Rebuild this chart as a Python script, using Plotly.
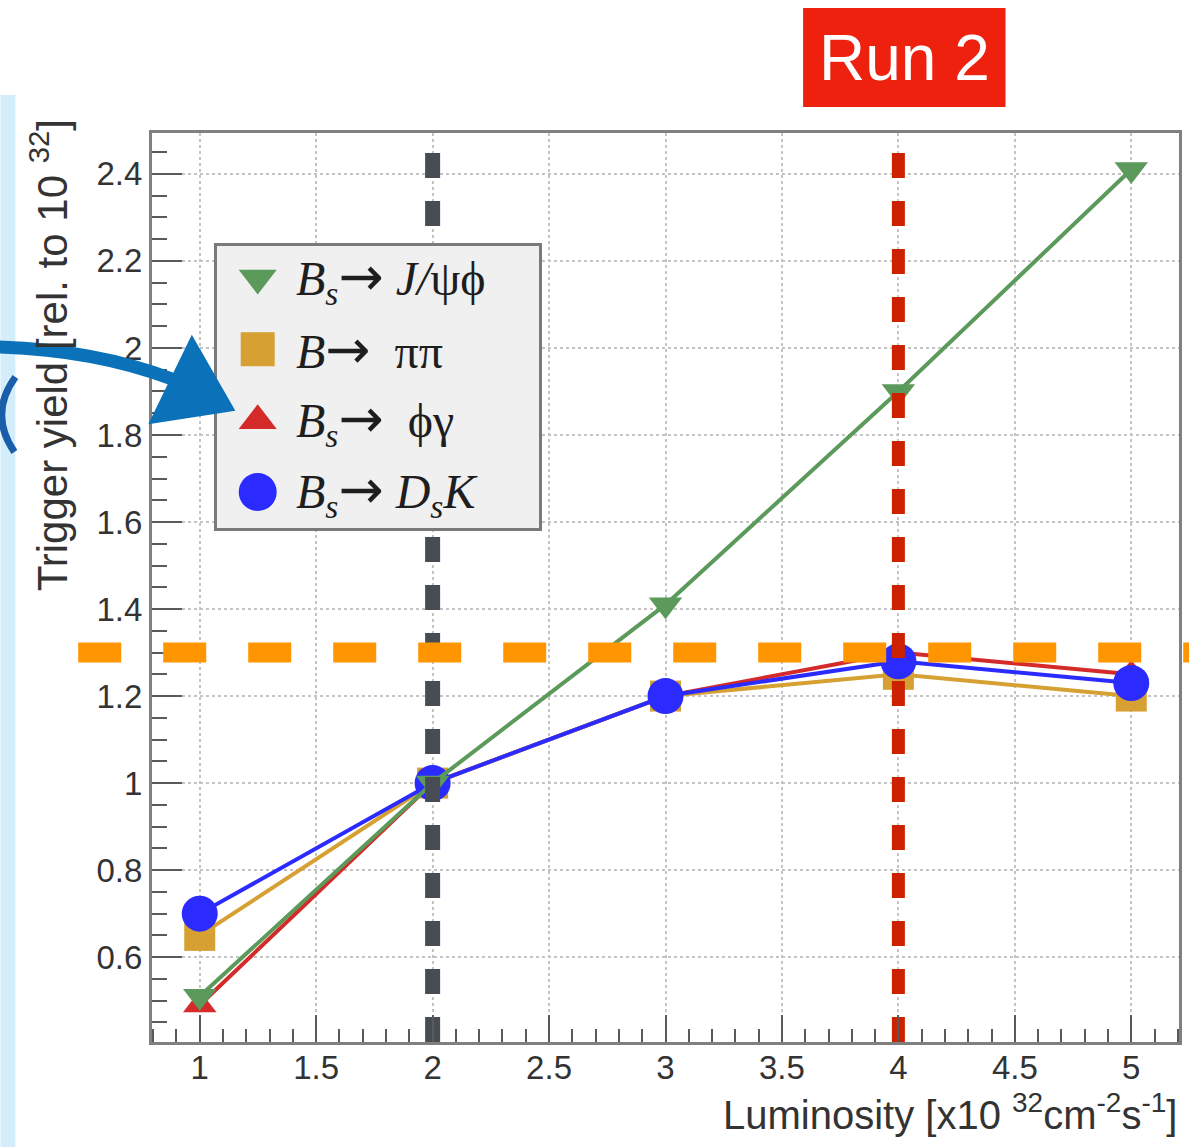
import plotly.graph_objects as go

# ---------------- data ----------------
LUMINOSITY = [1, 2, 3, 4, 5]
YIELD_BS_JPSIPHI = [0.51, 1.00, 1.41, 1.90, 2.41]
YIELD_B_PIPI = [0.65, 1.00, 1.20, 1.25, 1.20]
YIELD_BS_PHIGAMMA = [0.49, 1.00, 1.20, 1.30, 1.25]
YIELD_BS_DSK = [0.70, 1.00, 1.20, 1.28, 1.23]

ARROW = '<span style="font-family:DejaVu Sans;font-size:54px">→</span>'
LEGEND_LABELS = [
    f"<i>B<sub>s</sub></i>{ARROW} <i>J/</i>ψϕ",
    f"<i>B</i>{ARROW}  ππ",
    f"<i>B<sub>s</sub></i>{ARROW}  ϕγ",
    f"<i>B<sub>s</sub></i>{ARROW} <i>D<sub>s</sub>K</i>",
]
LEGEND_ROWS = [0, 1, 2, 3]

REF_LUMI_LINES = [2, 4]
REF_YIELD_LINE = 1.3

X_RANGE = [0.795, 5.205]
Y_RANGE = [0.405, 2.494]
X_TICK_STEP = 0.5
Y_TICK_STEP = 0.2

X_TITLE = "Luminosity [x10 <sup>32</sup>cm<sup>-2</sup>s<sup>-1</sup>]"
Y_TITLE = "Trigger yield [rel. to 10 <sup>32</sup>]"
BADGE_TEXT = "Run 2"

# ---------------- styles ----------------
W, H = 1189, 1147
ML, MR, MT, MB = 152, 7, 133, 105
PW, PH = W - ML - MR, H - MT - MB


def px_x(px):
    return (px - ML) / PW


def px_y(py):
    return (H - MB - py) / PH


GREEN = "#5b9a5b"
GOLD = "#d6a032"
RED = "#d42a2a"
BLUE = "#2b2bff"

SANS = "Liberation Sans, Arial, sans-serif"
SERIF = "Liberation Serif, Times New Roman, serif"

fig = go.Figure()

# data series (drawing order: red, gold, blue, green)
series = [
    (YIELD_BS_PHIGAMMA, RED, "triangle-up", 29),
    (YIELD_B_PIPI, GOLD, "square", 31),
    (YIELD_BS_DSK, BLUE, "circle", 36),
    (YIELD_BS_JPSIPHI, GREEN, "triangle-down", 29),
]
for vals, col, sym, size in series:
    fig.add_trace(go.Scatter(
        x=LUMINOSITY, y=vals, mode="lines+markers",
        line=dict(color=col, width=4),
        marker=dict(color=col, symbol=sym, size=size, opacity=1,
                    line=dict(width=0)),
        showlegend=False, hoverinfo="skip",
        xaxis="x", yaxis="y",
    ))

# vertical reference lines (above data, below the legend box)
ref_styles = [("#474c55", 15), ("#cc2200", 13)]
for xr, (col, wdt) in zip(REF_LUMI_LINES, ref_styles):
    fig.add_trace(go.Scatter(
        x=[xr, xr], y=Y_RANGE, mode="lines",
        line=dict(color=col, width=wdt, dash="25px,23px"),
        showlegend=False, hoverinfo="skip", xaxis="x", yaxis="y",
    ))

# legend markers in an inset subplot
fig.add_trace(go.Scatter(
    x=[0.127] * len(LEGEND_ROWS), y=LEGEND_ROWS, mode="markers",
    marker=dict(color=[GREEN, GOLD, RED, BLUE],
                symbol=["triangle-down", "square", "triangle-up", "circle"],
                size=[33, 34, 33, 38], opacity=1, line=dict(width=0)),
    showlegend=False, hoverinfo="skip", xaxis="x2", yaxis="y2",
))

axis_common = dict(
    ticks="inside", tickwidth=2, tickcolor="#5a5a5a",
    showline=True, linecolor="#808080", linewidth=3, mirror=True,
    showgrid=True, gridcolor="#c4c4c4", gridwidth=1.5, griddash="dot",
    zeroline=False, fixedrange=True,
    tickfont=dict(family=SANS, size=33, color="#333333"),
)

annotations = []
for lab, row in zip(LEGEND_LABELS, LEGEND_ROWS):
    annotations.append(dict(
        x=0.241, y=row, xref="x2", yref="y2", text=lab, showarrow=False,
        xanchor="left", yanchor="middle",
        font=dict(family=SERIF, size=48, color="#1e1e1e"),
    ))
annotations += [
    dict(x=px_x(49), y=px_y(355), xref="paper", yref="paper", text=Y_TITLE,
         textangle=-90, showarrow=False, xanchor="center", yanchor="middle",
         font=dict(family=SANS, size=42, color="#333333")),
    dict(x=px_x(1182), y=px_y(1112), xref="paper", yref="paper", text=X_TITLE,
         showarrow=False, xanchor="right", yanchor="middle",
         font=dict(family=SANS, size=40, color="#333333")),
    dict(x=px_x(906.5), y=px_y(58), xref="paper", yref="paper", text=BADGE_TEXT,
         showarrow=False, xanchor="center", yanchor="middle",
         font=dict(family=SANS, size=64, color="white")),
]


def pt(x, y):
    return f"{px_x(x):.5f},{px_y(y):.5f}"


y_orange = (REF_YIELD_LINE - Y_RANGE[0]) / (Y_RANGE[1] - Y_RANGE[0])
shapes = [
    # white main plot area (plot_bgcolor is used for the inset legend box)
    dict(type="rect", xref="paper", yref="paper", x0=0, x1=1, y0=0, y1=1,
         fillcolor="white", line=dict(width=0), layer="below"),
    # light-blue strip at the left edge
    dict(type="rect", xref="paper", yref="paper", x0=px_x(0), x1=px_x(15),
         y0=px_y(1147), y1=px_y(95), fillcolor="#d4edfa",
         line=dict(width=0), layer="above"),
    # partial bracket at left edge
    dict(type="path", xref="paper", yref="paper",
         path=f"M {pt(15, 377)} Q {pt(-12, 414)} {pt(14, 452)}",
         line=dict(color="#1a5ea9", width=7), layer="above"),
    # horizontal orange dashed line
    dict(type="line", xref="paper", yref="paper", x0=px_x(78), x1=px_x(1200),
         y0=y_orange, y1=y_orange,
         line=dict(color="#ff9500", width=20, dash="43px,42px"), layer="above"),
    # hand-drawn blue arrow
    dict(type="path", xref="paper", yref="paper",
         path=f"M {pt(-2, 347)} Q {pt(95, 350)} {pt(172, 379)}",
         line=dict(color="#0b72b9", width=13), layer="above"),
    dict(type="path", xref="paper", yref="paper",
         path=f"M {pt(150, 423)} L {pt(192, 337)} L {pt(234, 410)} Z",
         fillcolor="#0b72b9", line=dict(color="#0b72b9", width=2), layer="above"),
    # Run 2 badge
    dict(type="rect", xref="paper", yref="paper", x0=px_x(805), x1=px_x(1008),
         y0=px_y(107), y1=px_y(8), fillcolor="#ee210f",
         line=dict(width=0), layer="above"),
]

fig.update_layout(
    width=W, height=H,
    margin=dict(l=ML, r=MR, t=MT, b=MB, pad=0),
    paper_bgcolor="white", plot_bgcolor="#f0f0f0",
    showlegend=False, hovermode=False,
    xaxis=dict(range=X_RANGE, tick0=0, dtick=X_TICK_STEP, ticklen=27,
               ticklabelstandoff=-6,
               minor=dict(dtick=0.1, ticks="inside", ticklen=13, tickwidth=2,
                          tickcolor="#5a5a5a", showgrid=False),
               **axis_common),
    yaxis=dict(range=Y_RANGE, tick0=0, dtick=Y_TICK_STEP, ticklen=30,
               minor=dict(dtick=0.05, ticks="inside", ticklen=15, tickwidth=2,
                          tickcolor="#5a5a5a", showgrid=False),
               **axis_common),
    xaxis2=dict(domain=[px_x(217), px_x(540)], range=[0, 1], anchor="y2",
                showline=True, mirror=True, linecolor="#7a7a7a", linewidth=3,
                showticklabels=False, ticks="", showgrid=False, zeroline=False,
                fixedrange=True),
    yaxis2=dict(domain=[px_y(528), px_y(246)], range=[3.505, -0.449], anchor="x2",
                showline=True, mirror=True, linecolor="#7a7a7a", linewidth=3,
                showticklabels=False, ticks="", showgrid=False, zeroline=False,
                fixedrange=True),
    shapes=shapes,
    annotations=annotations,
)

fig.write_html("out.html", config={"displayModeBar": False},
               post_script="document.body.style.margin='0';")
